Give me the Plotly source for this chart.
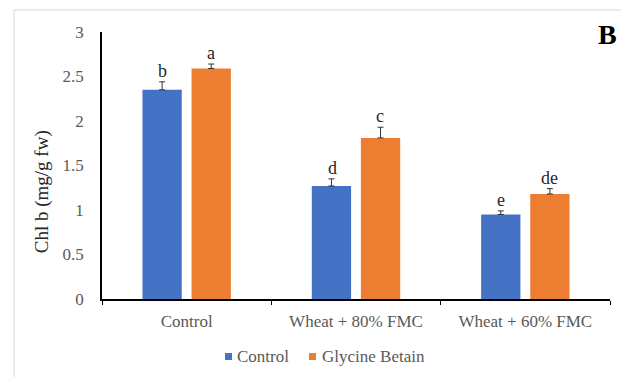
import plotly.graph_objects as go

# Chlorophyll b content per water treatment, with and without glycine betaine
categories = ["Control", "Wheat + 80% FMC", "Wheat + 60% FMC"]
series_names = ["Control", "Glycine Betain"]
control_vals = [2.35, 1.27, 0.95]
control_err = [0.09, 0.08, 0.04]
gb_vals = [2.59, 1.81, 1.18]
gb_err = [0.05, 0.12, 0.06]
control_letters = ["b", "d", "e"]
gb_letters = ["a", "c", "de"]
y_ticks = [0, 0.5, 1, 1.5, 2, 2.5, 3]

SERIF = "Liberation Serif"
BLUE = "#4472C4"
ORANGE = "#ED7D31"
TEXT_GREY = "#595959"

fig = go.Figure()
for name, vals, errs, color in [(series_names[0], control_vals, control_err, BLUE),
                                (series_names[1], gb_vals, gb_err, ORANGE)]:
    fig.add_trace(go.Bar(
        name=name, x=categories, y=vals, marker_color=color, marker_line_width=0,
        showlegend=False,
        error_y=dict(type="data", array=errs, arrayminus=[0] * len(errs),
                     symmetric=False, color="#303030", thickness=1, width=3),
    ))

# significance letters sit just above each error bar
annotations = []
for vals, errs, letters, shift in [(control_vals, control_err, control_letters, -24),
                                   (gb_vals, gb_err, gb_letters, 24)]:
    for cat, v, e, lab in zip(categories, vals, errs, letters):
        annotations.append(dict(x=cat, y=v + e, text=lab, showarrow=False, xshift=shift,
                                yanchor="bottom", yshift=-1,
                                font=dict(family=SERIF, size=18, color="#262626")))

# axis title and panel letter
annotations.append(dict(xref="paper", yref="paper", x=-0.118, y=0.40,
                        text="Chl b (mg/g fw)", textangle=-90, showarrow=False,
                        xanchor="center", yanchor="middle",
                        font=dict(family=SERIF, size=19, color="#262626")))
annotations.append(dict(xref="paper", yref="paper", x=1.0177, y=0.989,
                        text="<b>B</b>", showarrow=False,
                        xanchor="right", yanchor="middle",
                        font=dict(family=SERIF, size=28, color="#000000")))

# compact legend below the axis: small square key right next to each label
shapes = [dict(type="rect", xref="paper", yref="paper",
               x0=-0.1732, x1=1.05, y0=-0.4, y1=1.0824,
               line=dict(color="#d9d9d9", width=1), layer="below")]
legend_keys = [(series_names[0], BLUE, 0.2421, 0.2618),
               (series_names[1], ORANGE, 0.4075, 0.4291)]
for name, color, kx, tx in legend_keys:
    shapes.append(dict(type="rect", xref="paper", yref="paper",
                       x0=kx, x1=kx + 0.0138, y0=-0.2285, y1=-0.2022,
                       fillcolor=color, line=dict(width=0)))
    annotations.append(dict(xref="paper", yref="paper", x=tx, y=-0.2135,
                            text=name, showarrow=False, xanchor="left", yanchor="middle",
                            font=dict(family=SERIF, size=17, color=TEXT_GREY)))

fig.update_layout(
    width=621, height=377,
    margin=dict(l=102, r=11, t=32, b=78, autoexpand=False),
    paper_bgcolor="white", plot_bgcolor="white",
    barmode="group", bargap=0.42, bargroupgap=0.2,
    font=dict(family=SERIF, size=17, color=TEXT_GREY),
    showlegend=False,
    annotations=annotations,
    shapes=shapes,
    xaxis=dict(showline=True, linecolor="#000000", linewidth=1.5,
               ticks="outside", tickson="boundaries", ticklen=4, tickcolor="#000000",
               ticklabelstandoff=6, showgrid=False, zeroline=False, automargin=False,
               tickfont=dict(family=SERIF, size=17, color=TEXT_GREY)),
    yaxis=dict(range=[0, 3], tickvals=y_ticks, ticktext=[f"{t:g}" for t in y_ticks],
               showline=True, linecolor="#000000", linewidth=1.5,
               ticks="", showgrid=False, zeroline=False, ticklabelstandoff=13,
               automargin=False,
               tickfont=dict(family=SERIF, size=17, color=TEXT_GREY)),
)

fig.write_html("out.html")
